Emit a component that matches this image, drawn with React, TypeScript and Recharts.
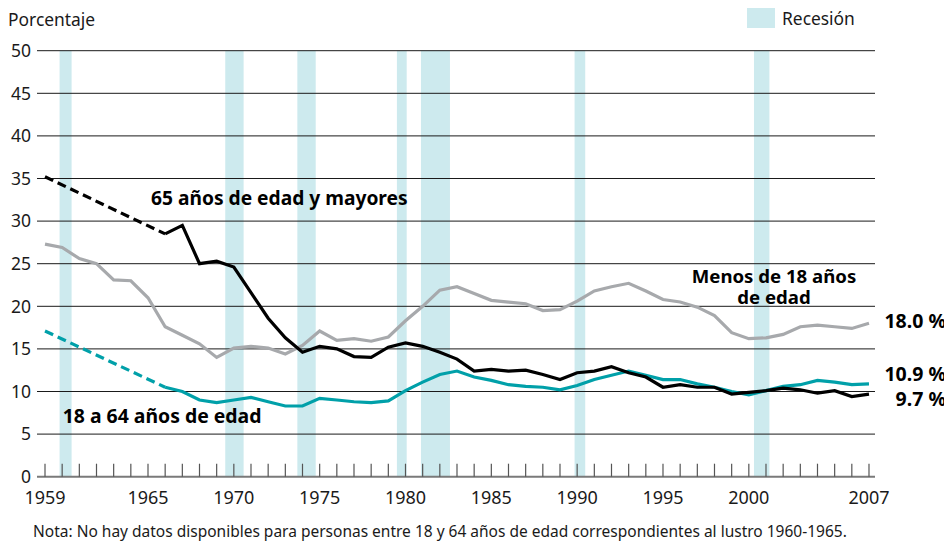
import { LineChart, Line, XAxis, YAxis, ReferenceArea, ReferenceLine } from 'recharts';

const years = [
  1959, 1960, 1961, 1962, 1963, 1964, 1965, 1966, 1967, 1968, 1969, 1970, 1971, 1972, 1973, 1974, 1975,
  1976, 1977, 1978, 1979, 1980, 1981, 1982, 1983, 1984, 1985, 1986, 1987, 1988, 1989, 1990, 1991, 1992,
  1993, 1994, 1995, 1996, 1997, 1998, 1999, 2000, 2001, 2002, 2003, 2004, 2005, 2006, 2007,
];

// Menos de 18 años
const under18 = [
  27.3, 26.9, 25.6, 25.0, 23.1, 23.0, 21.0, 17.6, 16.6, 15.6, 14.0, 15.1, 15.3, 15.1, 14.4, 15.4, 17.1,
  16.0, 16.2, 15.9, 16.4, 18.3, 20.0, 21.9, 22.3, 21.5, 20.7, 20.5, 20.3, 19.5, 19.6, 20.6, 21.8, 22.3,
  22.7, 21.8, 20.8, 20.5, 19.9, 18.9, 16.9, 16.2, 16.3, 16.7, 17.6, 17.8, 17.6, 17.4, 18.0,
];

// 65 años y mayores (sin datos 1960-1965)
const elderly = [
  35.2, null, null, null, null, null, null, 28.5, 29.5, 25.0, 25.3, 24.6, 21.6, 18.6, 16.3, 14.6, 15.3,
  15.0, 14.1, 14.0, 15.2, 15.7, 15.3, 14.6, 13.8, 12.4, 12.6, 12.4, 12.5, 12.0, 11.4, 12.2, 12.4, 12.9,
  12.2, 11.7, 10.5, 10.8, 10.5, 10.5, 9.7, 9.9, 10.1, 10.4, 10.2, 9.8, 10.1, 9.4, 9.7,
];

// 18 a 64 años (sin datos 1960-1965)
const working = [
  17.1, null, null, null, null, null, null, 10.5, 10.0, 9.0, 8.7, 9.0, 9.3, 8.8, 8.3, 8.3, 9.2,
  9.0, 8.8, 8.7, 8.9, 10.1, 11.1, 12.0, 12.4, 11.7, 11.3, 10.8, 10.6, 10.5, 10.2, 10.7, 11.4, 11.9,
  12.4, 11.9, 11.4, 11.4, 10.9, 10.5, 10.0, 9.6, 10.1, 10.6, 10.8, 11.3, 11.1, 10.8, 10.9,
];

const labeledYears = [1959, 1965, 1970, 1975, 1980, 1985, 1990, 1995, 2000, 2007];
const yTicks = [0, 5, 10, 15, 20, 25, 30, 35, 40, 45, 50];

const recessionStart = [1959.85, 1969.5, 1973.7, 1979.5, 1980.9, 1989.85, 2000.3];
const recessionEnd = [1960.55, 1970.57, 1974.77, 1980.07, 1982.59, 1990.47, 2001.2];

const firstAfterGap = 1966;

const data = years.map((year, i) => ({
  year,
  under18: under18[i],
  elderly: year >= firstAfterGap ? elderly[i] : null,
  elderlyGap: year <= firstAfterGap ? elderly[i] : null,
  working: year >= firstAfterGap ? working[i] : null,
  workingGap: year <= firstAfterGap ? working[i] : null,
}));

const FONT = '"Noto Sans", "Open Sans", sans-serif';
const BAND = '#cdeaee';
const GREY = '#a7a9ac';
const TEAL = '#00a0a9';
const INK = '#1a1a1a';

const YearTick = (props: any) => {
  const { x, y, payload } = props;
  const showLabel = labeledYears.includes(payload.value);
  return (
    <g>
      <line x1={x} x2={x} y1={y - 13} y2={y} stroke="#555" strokeWidth={1.2} />
      {showLabel && (
        <text x={x} y={y + 27} textAnchor="middle" fontSize={18} fill={INK} fontFamily={FONT}>
          {payload.value}
        </text>
      )}
    </g>
  );
};

export default function App() {
  return (
    <div style={{ position: 'relative', width: 944, height: 537, fontFamily: FONT }}>
      <LineChart
        width={944}
        height={537}
        data={data}
        margin={{ top: 42.7, right: 77, left: 0, bottom: 38.3 }}
      >
        <XAxis
          dataKey="year"
          type="number"
          domain={[1958.534, 2007.35]}
          allowDataOverflow
          ticks={years}
          interval={0}
          tick={<YearTick />}
          tickLine={false}
          tickSize={0}
          tickMargin={0}
          height={30}
          axisLine={{ stroke: '#7a7a7a', strokeWidth: 2 }}
        />
        <YAxis
          domain={[0, 50]}
          ticks={yTicks}
          interval={0}
          width={29}
          axisLine={false}
          tickLine={false}
          tickSize={0}
          tickMargin={6}
          tick={{ fontSize: 17.5, fill: INK, fontFamily: FONT }}
        />
        {recessionStart.map((start, i) => (
          <ReferenceArea
            key={`rec-${start}`}
            x1={start}
            x2={recessionEnd[i]}
            y1={0}
            y2={50}
            fill={BAND}
            fillOpacity={1}
            stroke="none"
          />
        ))}
        {yTicks
          .filter((v) => v > 0)
          .map((v) => (
            <ReferenceLine key={`grid-${v}`} y={v} stroke={INK} strokeWidth={1} />
          ))}
        <Line
          dataKey="under18"
          stroke={GREY}
          strokeWidth={3.2}
          dot={false}
          isAnimationActive={false}
        />
        <Line
          dataKey="workingGap"
          stroke={TEAL}
          strokeWidth={3.2}
          strokeDasharray="9 5"
          connectNulls
          dot={false}
          isAnimationActive={false}
        />
        <Line
          dataKey="working"
          stroke={TEAL}
          strokeWidth={3.2}
          dot={false}
          isAnimationActive={false}
        />
        <Line
          dataKey="elderlyGap"
          stroke="#000"
          strokeWidth={3.2}
          strokeDasharray="9 5"
          connectNulls
          dot={false}
          isAnimationActive={false}
        />
        <Line
          dataKey="elderly"
          stroke="#000"
          strokeWidth={3.2}
          dot={false}
          isAnimationActive={false}
        />
      </LineChart>

      <svg
        width={944}
        height={537}
        style={{ position: 'absolute', left: 0, top: 0, pointerEvents: 'none', overflow: 'visible' }}
        fontFamily={FONT}
      >
        <text x={0} y={18} fontSize={17.4} fill={INK}>
          Porcentaje
        </text>

        <rect x={739} y={0} width={28} height={20} fill={BAND} />
        <text x={774} y={17} fontSize={17.4} fill={INK}>
          Recesión
        </text>

        <text x={143} y={197} fontSize={19.2} fontWeight={700} fill="#000">
          65 años de edad y mayores
        </text>
        <text x={54.7} y={415.3} fontSize={19.4} fontWeight={700} fill="#000">
          18 a 64 años de edad
        </text>
        <text x={766} y={275} fontSize={18.6} fontWeight={700} fill="#000" textAnchor="middle">
          Menos de 18 años
        </text>
        <text x={766} y={295.5} fontSize={18.6} fontWeight={700} fill="#000" textAnchor="middle">
          de edad
        </text>

        <text x={938} y={320.3} fontSize={19.5} fontWeight={700} fill="#000" textAnchor="end">
          18.0 %
        </text>
        <text x={938} y={372.5} fontSize={19.5} fontWeight={700} fill="#000" textAnchor="end">
          10.9 %
        </text>
        <text x={938} y={398} fontSize={19.5} fontWeight={700} fill="#000" textAnchor="end">
          9.7 %
        </text>

        <text x={25} y={529} fontSize={15.5} fill={INK}>
          Nota: No hay datos disponibles para personas entre 18 y 64 años de edad correspondientes al lustro 1960-1965.
        </text>
      </svg>
    </div>
  );
}
